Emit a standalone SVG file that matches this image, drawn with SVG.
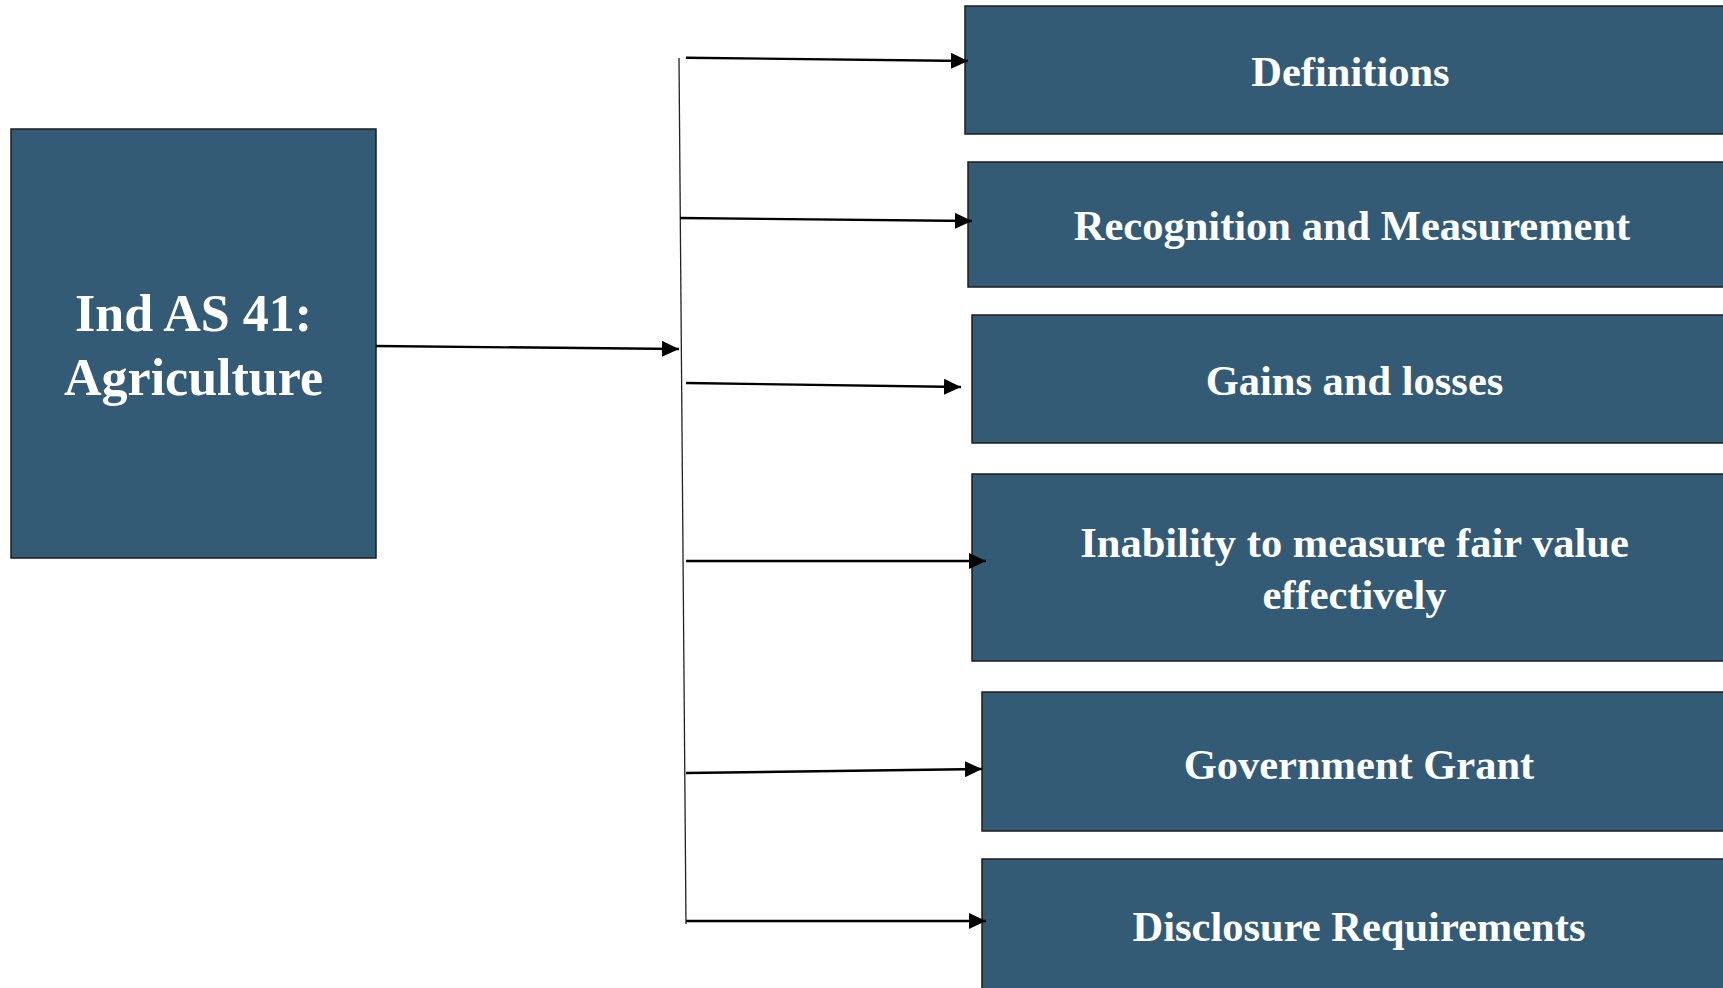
<svg xmlns="http://www.w3.org/2000/svg" width="1723" height="988" viewBox="0 0 1723 988">
<style>
.box{fill:#345b75;stroke:#1c1c1c;stroke-width:1.5}
.t{fill:#ffffff;font-family:"Liberation Serif","Times New Roman",serif;font-weight:bold;text-anchor:middle}
.tm{font-size:52px}
.ts{font-size:42.5px}
.arr{stroke:#000;stroke-width:2.4;fill:none;marker-end:url(#ah)}
.spine{stroke:#222;stroke-width:1.3;fill:none}
</style>
<defs>
<marker id="ah" markerUnits="userSpaceOnUse" markerWidth="17" markerHeight="16" refX="17" refY="8" orient="auto" viewBox="0 0 17 16">
<path d="M0,0 L17,8 L0,16 Z" fill="#000"/>
</marker>
</defs>
<rect width="1723" height="988" fill="#ffffff"/>
<g id="node-main">
<rect class="box" x="11" y="129" width="365" height="429"/>
<text class="t tm" x="193.5" y="331">Ind AS 41:</text>
<text class="t tm" x="193.5" y="395">Agriculture</text>
</g>
<g id="node-definitions">
<rect class="box" x="965" y="6" width="780" height="128"/>
<text class="t ts" x="1350.5" y="86">Definitions</text>
</g>
<g id="node-recognition">
<rect class="box" x="968" y="162" width="780" height="125"/>
<text class="t ts" x="1352" y="240">Recognition and Measurement</text>
</g>
<g id="node-gains">
<rect class="box" x="972" y="315" width="780" height="128"/>
<text class="t ts" x="1354.5" y="395">Gains and losses</text>
</g>
<g id="node-inability">
<rect class="box" x="972" y="474" width="780" height="187"/>
<text class="t ts" x="1354.5" y="557">Inability to measure fair value</text>
<text class="t ts" x="1354.5" y="609">effectively</text>
</g>
<g id="node-grant">
<rect class="box" x="982" y="692" width="780" height="139"/>
<text class="t ts" x="1359" y="779">Government Grant</text>
</g>
<g id="node-disclosure">
<rect class="box" x="982" y="859" width="780" height="160"/>
<text class="t ts" x="1359" y="941">Disclosure Requirements</text>
</g>
<g id="connectors">
<line class="spine" x1="679" y1="58" x2="686" y2="924"/>
<line class="arr" x1="376" y1="346" x2="679" y2="349"/>
<line class="arr" x1="686" y1="57.7" x2="968" y2="61"/>
<line class="arr" x1="680" y1="218" x2="972" y2="221"/>
<line class="arr" x1="686" y1="383" x2="961" y2="387"/>
<line class="arr" x1="686" y1="561" x2="986" y2="561"/>
<line class="arr" x1="686" y1="773" x2="982" y2="769"/>
<line class="arr" x1="686" y1="921" x2="986" y2="921"/>
</g>
</svg>
